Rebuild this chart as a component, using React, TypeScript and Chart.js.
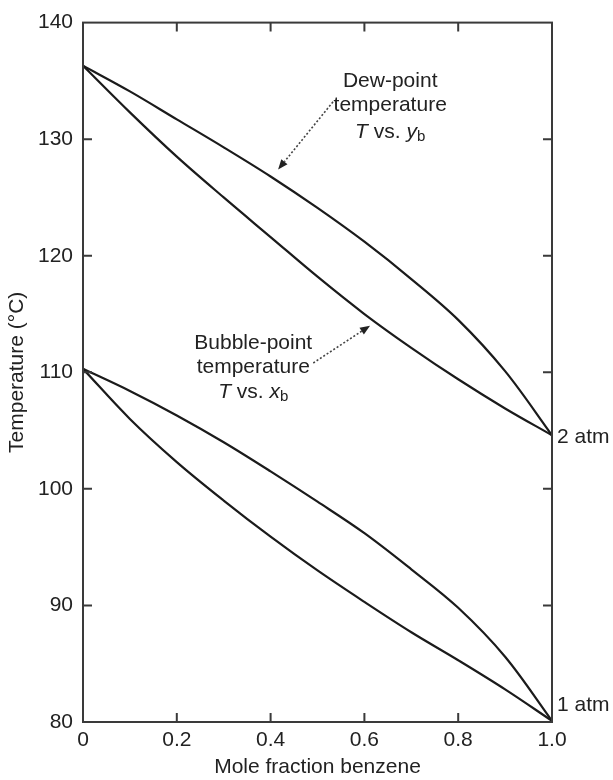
import React, { useEffect, useRef } from "react";
import { Chart, registerables } from "chart.js";

Chart.register(...registerables);

// Mole fraction benzene
const moleFraction = [0, 0.1, 0.2, 0.3, 0.4, 0.5, 0.6, 0.7, 0.8, 0.9, 1.0];
// 2 atm
const dewPoint2atm = [136.3, 134.1, 131.7, 129.3, 126.8, 124.1, 121.2, 118.0, 114.5, 110.1, 104.6];
const bubblePoint2atm = [136.3, 132.3, 128.5, 125.0, 121.6, 118.2, 115.0, 112.1, 109.4, 106.9, 104.6];
// 1 atm
const dewPoint1atm = [110.3, 108.4, 106.3, 104.0, 101.5, 98.9, 96.2, 93.1, 89.8, 85.6, 80.1];
const bubblePoint1atm = [110.3, 106.0, 102.3, 99.0, 95.9, 93.0, 90.3, 87.7, 85.3, 82.8, 80.1];

const xTickValues = [0, 0.2, 0.4, 0.6, 0.8, 1.0];
const yTickValues = [80, 90, 100, 110, 120, 130, 140];

const pressureLabels = ["2 atm", "1 atm"];
const pressureLabelT = [104.4, 81.4];

const FONT = "'Liberation Sans', Arial, Helvetica, sans-serif";
const FS = 21;
const TEXT = "#222";
const LINE = "#1b1b1b";
const AXIS = "#3a3a3a";

type Seg = { t: string; italic?: boolean; sub?: boolean };

function drawRich(ctx: CanvasRenderingContext2D, segs: Seg[], cx: number, cy: number) {
  const fontFor = (s: Seg) =>
    `${s.italic ? "italic " : ""}${s.sub ? Math.round(FS * 0.72) : FS}px ${FONT}`;
  let total = 0;
  for (const s of segs) {
    ctx.font = fontFor(s);
    total += ctx.measureText(s.t).width;
  }
  let x = cx - total / 2;
  ctx.textAlign = "left";
  ctx.textBaseline = "middle";
  for (const s of segs) {
    ctx.font = fontFor(s);
    ctx.fillText(s.t, x, cy + (s.sub ? 5 : 0));
    x += ctx.measureText(s.t).width;
  }
}

function drawArrow(ctx: CanvasRenderingContext2D, x1: number, y1: number, x2: number, y2: number) {
  const ang = Math.atan2(y2 - y1, x2 - x1);
  const head = 10;
  const bx = x2 - head * Math.cos(ang);
  const by = y2 - head * Math.sin(ang);
  ctx.save();
  ctx.strokeStyle = "#444";
  ctx.lineWidth = 1.6;
  ctx.setLineDash([2, 2]);
  ctx.beginPath();
  ctx.moveTo(x1, y1);
  ctx.lineTo(bx, by);
  ctx.stroke();
  ctx.setLineDash([]);
  ctx.fillStyle = "#222";
  ctx.beginPath();
  ctx.moveTo(x2, y2);
  ctx.lineTo(bx + 4 * Math.sin(ang), by - 4 * Math.cos(ang));
  ctx.lineTo(bx - 4 * Math.sin(ang), by + 4 * Math.cos(ang));
  ctx.closePath();
  ctx.fill();
  ctx.restore();
}

const framePlugin = {
  id: "frameAndNotes",
  afterDatasetsDraw(chart: any) {
    const { ctx, chartArea } = chart;
    const xs = chart.scales.x;
    const ys = chart.scales.y;
    const { left, right, top, bottom } = chartArea;
    ctx.save();
    // frame
    ctx.strokeStyle = AXIS;
    ctx.lineWidth = 2;
    ctx.strokeRect(left, top, right - left, bottom - top);
    // inner ticks
    const tl = 9;
    ctx.beginPath();
    for (const v of xTickValues) {
      if (v === 0 || v === 1) continue;
      const px = xs.getPixelForValue(v);
      ctx.moveTo(px, bottom);
      ctx.lineTo(px, bottom - tl);
      ctx.moveTo(px, top);
      ctx.lineTo(px, top + tl);
    }
    for (const v of yTickValues) {
      if (v === 80 || v === 140) continue;
      const py = ys.getPixelForValue(v);
      ctx.moveTo(left, py);
      ctx.lineTo(left + tl, py);
      ctx.moveTo(right, py);
      ctx.lineTo(right - tl, py);
    }
    ctx.stroke();

    // axis titles
    ctx.fillStyle = TEXT;
    ctx.font = `${FS}px ${FONT}`;
    ctx.textAlign = "center";
    ctx.textBaseline = "middle";
    ctx.fillText("Mole fraction benzene", (left + right) / 2, 767);
    ctx.save();
    ctx.translate(17, (top + bottom) / 2);
    ctx.rotate(-Math.PI / 2);
    ctx.fillText("Temperature (\u00B0C)", 0, 0);
    ctx.restore();

    // pressure labels
    ctx.textAlign = "left";
    pressureLabels.forEach((lab, i) => {
      ctx.fillText(lab, xs.getPixelForValue(1) + 5, ys.getPixelForValue(pressureLabelT[i]));
    });

    // annotations
    const P = (x: number, t: number) => [xs.getPixelForValue(x), ys.getPixelForValue(t)];
    let [cx, cy] = P(0.655, 135.0);
    drawRich(ctx, [{ t: "Dew-point" }], cx, cy);
    [cx, cy] = P(0.655, 132.9);
    drawRich(ctx, [{ t: "temperature" }], cx, cy);
    [cx, cy] = P(0.655, 130.6);
    drawRich(ctx, [{ t: "T", italic: true }, { t: " vs. " }, { t: "y", italic: true }, { t: "b", sub: true }], cx, cy);
    let [a1, b1] = P(0.533, 133.2);
    let [a2, b2] = P(0.416, 127.4);
    drawArrow(ctx, a1, b1, a2, b2);

    [cx, cy] = P(0.363, 112.5);
    drawRich(ctx, [{ t: "Bubble-point" }], cx, cy);
    [cx, cy] = P(0.363, 110.4);
    drawRich(ctx, [{ t: "temperature" }], cx, cy);
    [cx, cy] = P(0.363, 108.3);
    drawRich(ctx, [{ t: "T", italic: true }, { t: " vs. " }, { t: "x", italic: true }, { t: "b", sub: true }], cx, cy);
    [a1, b1] = P(0.491, 110.8);
    [a2, b2] = P(0.612, 114.0);
    drawArrow(ctx, a1, b1, a2, b2);

    ctx.restore();
  },
};

function series(ys: number[]) {
  return moleFraction.map((x, i) => ({ x, y: ys[i] }));
}

export default function App() {
  const ref = useRef<HTMLCanvasElement | null>(null);
  useEffect(() => {
    if (!ref.current) return;
    const ds = (label: string, data: number[]) => ({
      label,
      data: series(data),
      showLine: true,
      borderColor: LINE,
      borderWidth: 2.2,
      pointRadius: 0,
      tension: 0.35,
      fill: false,
    });
    const chart = new Chart(ref.current, {
      type: "scatter",
      data: {
        datasets: [
          ds("Dew point 2 atm", dewPoint2atm),
          ds("Bubble point 2 atm", bubblePoint2atm),
          ds("Dew point 1 atm", dewPoint1atm),
          ds("Bubble point 1 atm", bubblePoint1atm),
        ],
      },
      options: {
        animation: false,
        responsive: false,
        maintainAspectRatio: false,
        layout: { padding: 0, autoPadding: false } as any,
        plugins: { legend: { display: false }, tooltip: { enabled: false } },
        scales: {
          x: {
            type: "linear",
            position: "bottom",
            min: 0,
            max: 1,
            grid: { display: false, drawTicks: false, tickLength: 0 },
            border: { display: false },
            afterBuildTicks: (s: any) => {
              s.ticks = xTickValues.map((v) => ({ value: v }));
            },
            ticks: {
              color: TEXT,
              font: { family: FONT, size: FS },
              padding: 6,
              maxRotation: 0,
              autoSkip: false,
              callback: (v: any) => (v === 0 ? "0" : Number(v).toFixed(1)),
            },
            afterFit: (s: any) => {
              s.height = 58;
            },
          },
          xTop: {
            type: "linear",
            position: "top",
            min: 0,
            max: 1,
            grid: { display: false },
            border: { display: false },
            ticks: { display: false },
            afterFit: (s: any) => {
              s.height = 13;
            },
          },
          y: {
            type: "linear",
            position: "left",
            min: 80,
            max: 140,
            grid: { display: false, drawTicks: false, tickLength: 0 },
            border: { display: false },
            afterBuildTicks: (s: any) => {
              s.ticks = yTickValues.map((v) => ({ value: v }));
            },
            ticks: {
              color: TEXT,
              font: { family: FONT, size: FS },
              padding: 10,
              autoSkip: false,
            },
            afterFit: (s: any) => {
              s.width = 83;
            },
          },
          yRight: {
            type: "linear",
            position: "right",
            min: 80,
            max: 140,
            grid: { display: false },
            border: { display: false },
            ticks: { display: false },
            afterFit: (s: any) => {
              s.width = 61;
            },
          },
        },
      },
      plugins: [framePlugin],
    });
    return () => chart.destroy();
  }, []);
  return (
    <div style={{ position: "fixed", left: 0, top: 0, width: 613, height: 780, background: "#fff" }}>
      <canvas ref={ref} width={613} height={780} style={{ display: "block" }} />
    </div>
  );
}
